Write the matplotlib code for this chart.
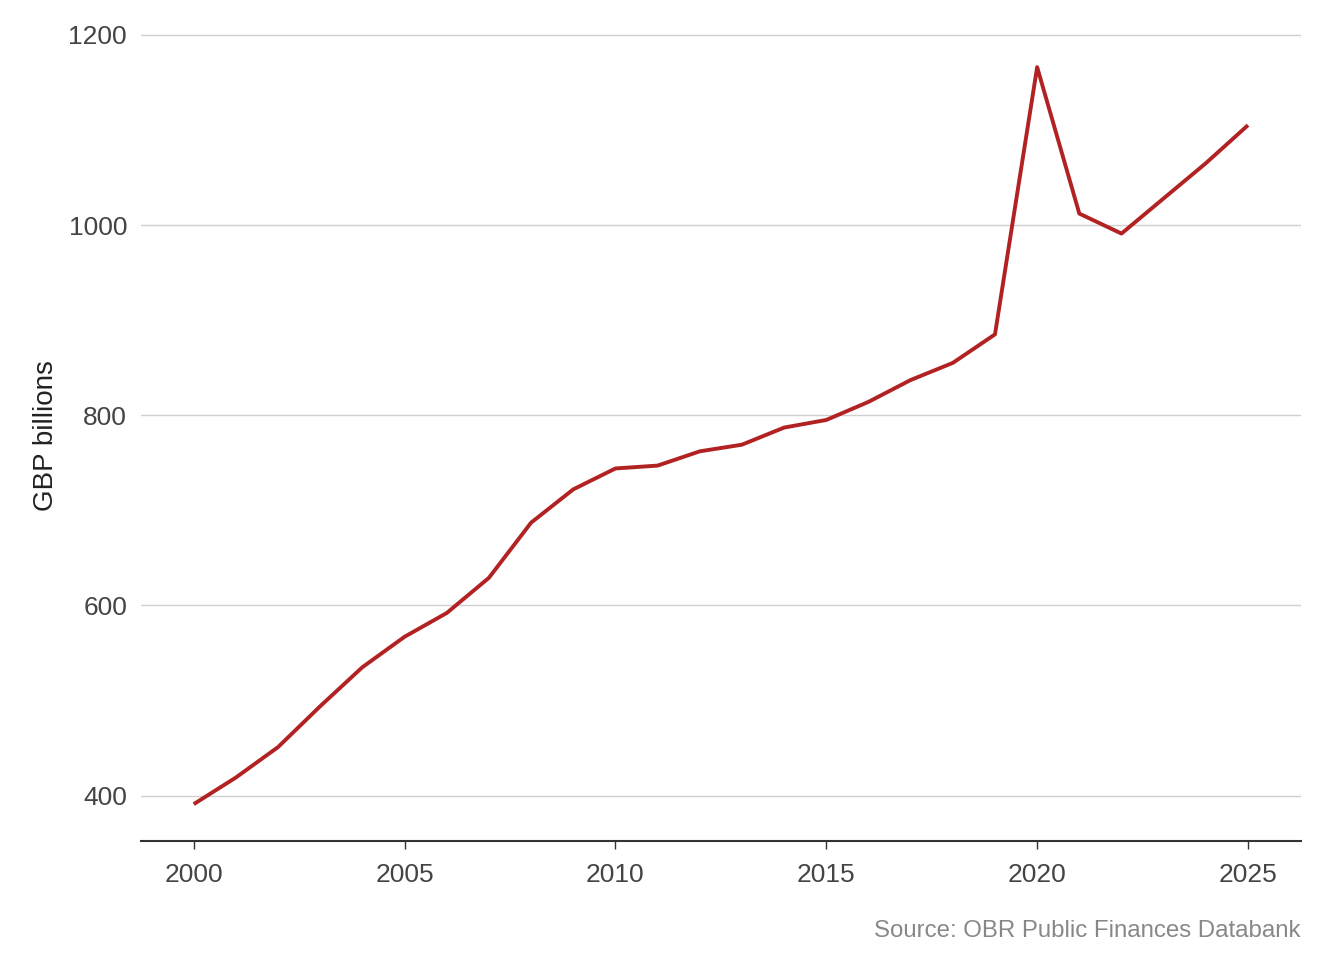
import matplotlib
matplotlib.use("Agg")
import matplotlib.pyplot as plt

# Значения (млрд фунтов)
years = list(range(2000, 2026))
spending = [391, 419, 451, 494, 535, 567, 592, 629, 687, 722,
            744, 747, 762, 769, 787, 795, 814, 837, 855, 885,
            1166, 1012, 991, 1028, 1065, 1105]
y_ticks = [400, 600, 800, 1000, 1200]
x_ticks = [2000, 2005, 2010, 2015, 2020, 2025]

plt.rcParams['font.family'] = ['Liberation Sans', 'DejaVu Sans']

fig = plt.figure(figsize=(13.44, 9.6), dpi=100)
ax = fig.add_axes([0.1049, 0.124, 0.8629, 0.8437])

ax.plot(years, spending, color='#b22222', linewidth=2.8, solid_capstyle='butt')

ax.set_xlim(1998.75, 2026.25)
ax.set_ylim(352.3, 1204)
ax.set_yticks(y_ticks)
ax.set_xticks(x_ticks)
ax.grid(axis='y', color='#d0d0d0', linewidth=1.0)
ax.set_axisbelow(True)

for side in ['top', 'right', 'left']:
    ax.spines[side].set_visible(False)
ax.spines['bottom'].set_color('#333333')
ax.spines['bottom'].set_linewidth(1.5)

ax.tick_params(axis='y', length=0, pad=10, labelsize=19, labelcolor='#444444')
ax.tick_params(axis='x', length=6, width=1, color='#333333', pad=10,
               labelsize=19, labelcolor='#444444')

ax.set_ylabel("GBP billions", fontsize=20, color='#222222', labelpad=7)

fig.text(0.9678, 0.024, "Source: OBR Public Finances Databank",
         ha='right', va='baseline', fontsize=17.3, color='#888888')

fig.savefig("out.png", dpi=100)
